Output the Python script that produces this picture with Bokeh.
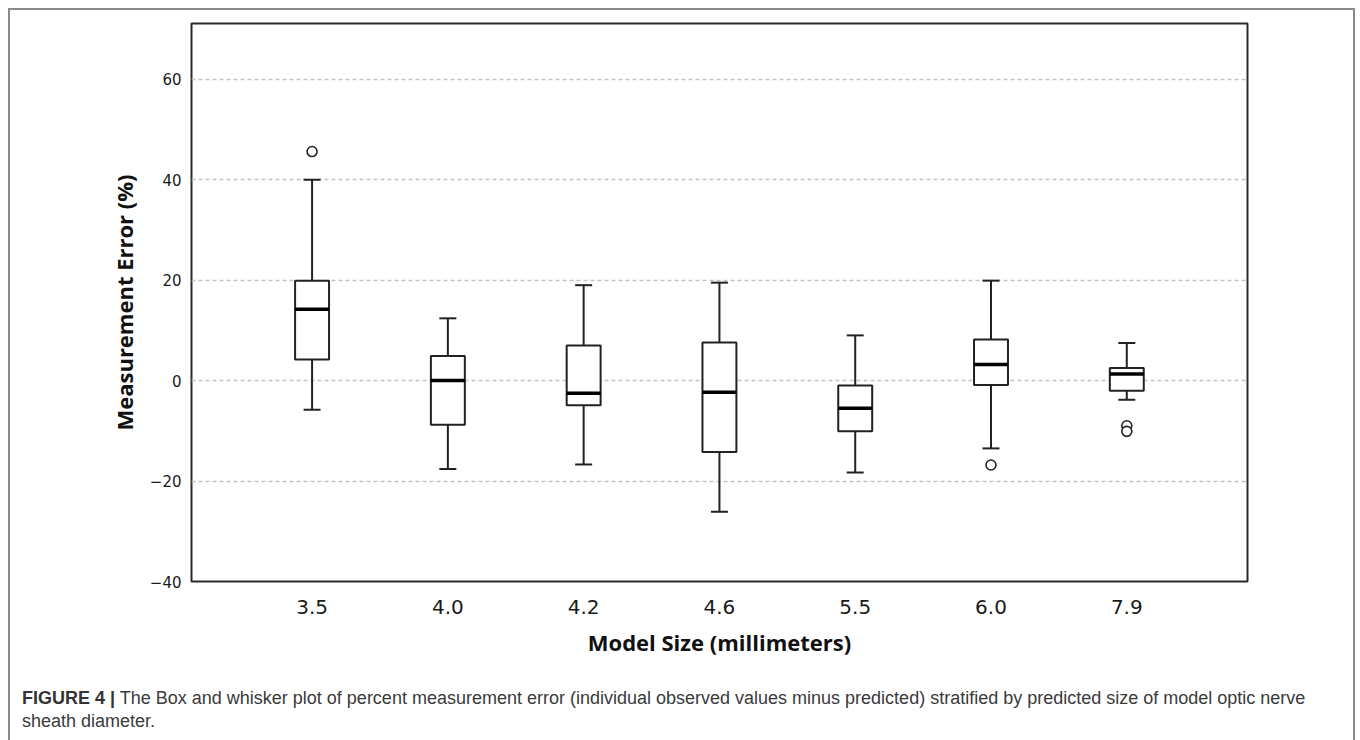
from bokeh.plotting import figure
from bokeh.models import Range1d, FixedTicker, Div
from bokeh.layouts import column
from bokeh.embed import file_html
from bokeh.resources import INLINE

# ---- data ----
sizes = ["3.5", "4.0", "4.2", "4.6", "5.5", "6.0", "7.9"]
whisker_low = [-5.8, -17.6, -16.7, -26.1, -18.3, -13.5, -3.8]
q1 = [4.2, -8.8, -4.9, -14.2, -10.1, -0.9, -2.0]
median = [14.2, 0.0, -2.5, -2.3, -5.5, 3.2, 1.3]
q3 = [19.9, 4.9, 7.0, 7.6, -1.0, 8.2, 2.5]
whisker_high = [40.0, 12.4, 19.0, 19.5, 9.0, 19.9, 7.5]
outlier_size = ["3.5", "6.0", "7.9", "7.9"]
outlier_value = [45.6, -16.8, -9.0, -10.1]
y_ticks = [-40, -20, 0, 20, 40, 60]

caption_bold = "FIGURE 4 |"
caption_line1 = ("The Box and whisker plot of percent measurement error (individual observed values "
                 "minus predicted) stratified by predicted size of model optic nerve")
caption_line2 = "sheath diameter."

x = list(range(len(sizes)))
ox = [sizes.index(s) for s in outlier_size]
box_w = 0.25
med_x0 = [v - box_w / 2 for v in x]
med_x1 = [v + box_w / 2 for v in x]

p = figure(width=1343, height=660, output_backend="svg", toolbar_location=None,
           x_range=Range1d(-0.888, 6.889), y_range=Range1d(-40, 71.1),
           min_border_left=181, min_border_right=106, min_border_top=13,
           min_border_bottom=89)

p.background_fill_color = "white"
p.border_fill_color = "white"
p.outline_line_color = "#2a2a2a"
p.outline_line_width = 2

# grid
p.xgrid.grid_line_color = None
p.ygrid.ticker = FixedTicker(ticks=y_ticks)
p.ygrid.grid_line_color = "#c4c4c4"
p.ygrid.grid_line_width = 1.5
p.ygrid.grid_line_dash = "4 3"

# axes
p.yaxis.ticker = FixedTicker(ticks=y_ticks)
p.xaxis.ticker = FixedTicker(ticks=x)
p.xaxis.major_label_overrides = {i: s for i, s in enumerate(sizes)}
for ax in (p.xaxis[0], p.yaxis[0]):
    ax.axis_line_color = None
    ax.major_tick_line_color = None
    ax.minor_tick_line_color = None
    ax.major_label_text_color = "#1a1a1a"
    ax.axis_label_text_color = "#111111"
    ax.axis_label_text_font = "Open Sans"
    ax.axis_label_text_font_style = "bold"
    ax.axis_label_text_font_size = "22px"

p.yaxis.major_label_text_font = "DejaVu Sans"
p.yaxis.major_label_text_font_size = "15px"
p.yaxis.major_label_standoff = 4
p.yaxis.axis_label = "Measurement Error (%)"
p.yaxis.axis_label_standoff = 8

p.xaxis.major_label_text_font = "DejaVu Sans"
p.xaxis.major_label_text_font_size = "20px"
p.xaxis.major_label_standoff = 12
p.xaxis.axis_label = "Model Size (millimeters)"
p.xaxis.axis_label_standoff = 10

# whiskers
p.segment(x0=x, y0=q3, x1=x, y1=whisker_high, line_color="#222222", line_width=2)
p.segment(x0=x, y0=q1, x1=x, y1=whisker_low, line_color="#222222", line_width=2)
p.scatter(x=x, y=whisker_high, marker="dash", size=17, line_color="#222222", line_width=2)
p.scatter(x=x, y=whisker_low, marker="dash", size=17, line_color="#222222", line_width=2)

# boxes
p.vbar(x=x, width=box_w, bottom=q1, top=q3, fill_color="white",
       line_color="#222222", line_width=2)
# medians
p.segment(x0=med_x0, y0=median, x1=med_x1, y1=median, line_color="#000000", line_width=3.5)

# outliers
p.scatter(x=ox, y=outlier_value, marker="circle", size=10, fill_color="white",
          line_color="#222222", line_width=1.6)

# caption
cap_html = ('<div style="font-family:\'Liberation Sans\',Arial,sans-serif;font-size:18px;'
            'line-height:23px;color:#3a3a3a;white-space:nowrap;padding:0;margin:0;">'
            '<b style="color:#333">%s</b> %s<br>%s</div>'
            % (caption_bold, caption_line1, caption_line2))
cap = Div(text=cap_html, width=1343, height=60,
          styles={"padding-left": "7px", "padding-top": "12px", "box-sizing": "border-box"})

layout = column(p, cap, spacing=0, width=1347,
                styles={"margin-left": "8px", "margin-top": "8px",
                        "border-left": "2px solid #8a8a8a", "border-top": "2px solid #8a8a8a",
                        "border-right": "2px solid #8a8a8a"})

open("out.html", "w").write(file_html(layout, INLINE))
